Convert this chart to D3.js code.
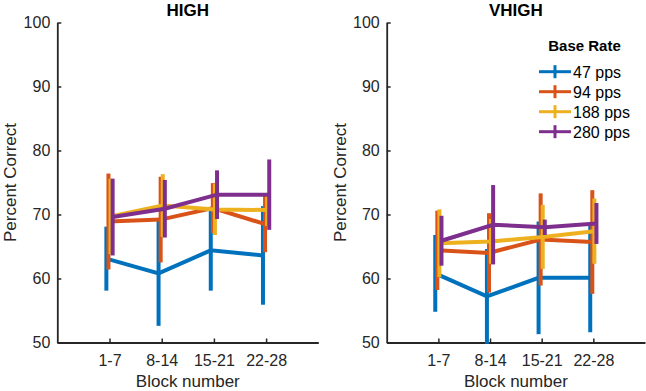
<!DOCTYPE html>
<html>
<head>
<meta charset="utf-8">
<script src="https://cdn.jsdelivr.net/npm/d3@7"></script>
<style>
  body { margin: 0; background: #fff; }
  text { font-family: "Liberation Sans", Arial, sans-serif; }
</style>
</head>
<body>
<div id="chart"></div>
<script>
// block labels on the x axis
var blocks = ["1-7", "8-14", "15-21", "22-28"];
var rates = ["47 pps", "94 pps", "188 pps", "280 pps"];
var colors = ["#0072BD", "#D95319", "#EDB120", "#7E2F8E"];
var yTicks = [50, 60, 70, 80, 90, 100];

// HIGH panel: mean and error (half width) per base rate
var high47 = [63.1, 60.8, 64.4, 63.6];
var high94 = [68.9, 69.2, 71.0, 68.5];
var high188 = [69.7, 71.4, 70.8, 70.7];
var high280 = [69.6, 70.9, 73.1, 73.1];
var high47Err = [5.0, 8.2, 6.3, 7.7];
var high94Err = [7.5, 6.7, 3.9, 4.4];
var high188Err = [5.9, 4.9, 4.0, 2.5];
var high280Err = [6.0, 4.5, 3.8, 5.5];

// VHIGH panel
var vhigh47 = [60.8, 57.2, 60.1, 60.1];
var vhigh94 = [64.4, 64.0, 66.1, 65.7];
var vhigh188 = [65.5, 65.8, 66.5, 67.4];
var vhigh280 = [65.9, 68.4, 68.0, 68.6];
var vhigh47Err = [6.0, 7.4, 8.8, 8.5];
var vhigh94Err = [6.2, 6.2, 7.2, 8.1];
var vhigh188Err = [5.3, 3.5, 5.0, 5.1];
var vhigh280Err = [3.9, 6.2, 1.2, 3.2];

var offsets = [-0.06, -0.02, 0.02, 0.06];
var width = 646, height = 391;
var axisColor = "#262626";

var svg = d3.select("#chart").append("svg")
  .attr("width", width)
  .attr("height", height)
  .style("background-color", "#FFFFFF");

function panel(title, means, errs, left, right, legend) {
  let x = d3.scaleLinear().domain([0, 5]).range([left, right]);
  let y = d3.scaleLinear().domain([50, 100]).range([342.5, 22.5]);
  let g = svg.append("g");

  // axes, ticks point inward like the original
  let gy = g.append("g").attr("transform", "translate(" + left + ",0)")
    .call(d3.axisLeft(y).tickValues(yTicks).tickSizeInner(-4).tickSizeOuter(0).tickPadding(7));
  let gx = g.append("g").attr("transform", "translate(0,342.5)")
    .call(d3.axisBottom(x).tickValues([1, 2, 3, 4])
      .tickFormat(function(d) { return blocks[d - 1]; })
      .tickSizeInner(-4).tickSizeOuter(0).tickPadding(12));
  [gx, gy].forEach(function(a) {
    a.select(".domain").attr("stroke", axisColor).attr("stroke-width", 1.8);
    a.selectAll(".tick line").attr("stroke", axisColor).attr("stroke-width", 1.5);
    a.selectAll(".tick text").attr("fill", axisColor).style("font-size", "16px");
  });

  // series: line plus error bars
  means.forEach(function(m, s) {
    let xs = function(i) { return x(i + 1 + offsets[s]); };
    g.append("path")
      .datum(m)
      .attr("fill", "none")
      .attr("stroke", colors[s])
      .attr("stroke-width", 4)
      .attr("d", d3.line().x(function(d, i) { return xs(i); }).y(function(d) { return y(d); }));
    g.selectAll(null)
      .data(m)
      .enter().append("line")
      .attr("x1", function(d, i) { return xs(i); })
      .attr("x2", function(d, i) { return xs(i); })
      .attr("y1", function(d, i) { return y(d - errs[s][i]); })
      .attr("y2", function(d, i) { return y(d + errs[s][i]); })
      .attr("stroke", colors[s])
      .attr("stroke-width", 4);
  });

  g.append("text")
    .attr("x", (left + right) / 2)
    .attr("y", 15.5)
    .attr("text-anchor", "middle")
    .style("font-size", "17px")
    .style("font-weight", "bold")
    .text(title);

  g.append("text")
    .attr("transform", "translate(" + (left - 41) + "," + 182.5 + ") rotate(-90)")
    .attr("text-anchor", "middle")
    .attr("fill", axisColor)
    .style("font-size", "17px")
    .text("Percent Correct");

  g.append("text")
    .attr("x", (left + right) / 2)
    .attr("y", 386.5)
    .attr("text-anchor", "middle")
    .attr("fill", axisColor)
    .style("font-size", "17px")
    .text("Block number");

  if (legend) {
    let lg = g.append("g");
    lg.append("text")
      .attr("x", 584.5)
      .attr("y", 50.5)
      .attr("text-anchor", "middle")
      .style("font-size", "15px")
      .style("font-weight", "bold")
      .text("Base Rate");
    let item = lg.selectAll(".legend")
      .data(rates)
      .enter().append("g")
      .attr("class", "legend")
      .attr("transform", function(d, i) { return "translate(0," + (71.7 + i * 20) + ")"; });
    item.append("line")
      .attr("x1", 539).attr("x2", 571)
      .attr("stroke", function(d, i) { return colors[i]; })
      .attr("stroke-width", 3);
    item.append("line")
      .attr("x1", 555).attr("x2", 555)
      .attr("y1", -6.5).attr("y2", 6.5)
      .attr("stroke", function(d, i) { return colors[i]; })
      .attr("stroke-width", 3);
    item.append("text")
      .attr("x", 573)
      .attr("y", 6)
      .style("font-size", "16px")
      .text(function(d) { return d; });
  }
}

panel("HIGH", [high47, high94, high188, high280],
  [high47Err, high94Err, high188Err, high280Err], 57.3, 318.3, false);
panel("VHIGH", [vhigh47, vhigh94, vhigh188, vhigh280],
  [vhigh47Err, vhigh94Err, vhigh188Err, vhigh280Err], 386.7, 645, true);
</script>
</body>
</html>
